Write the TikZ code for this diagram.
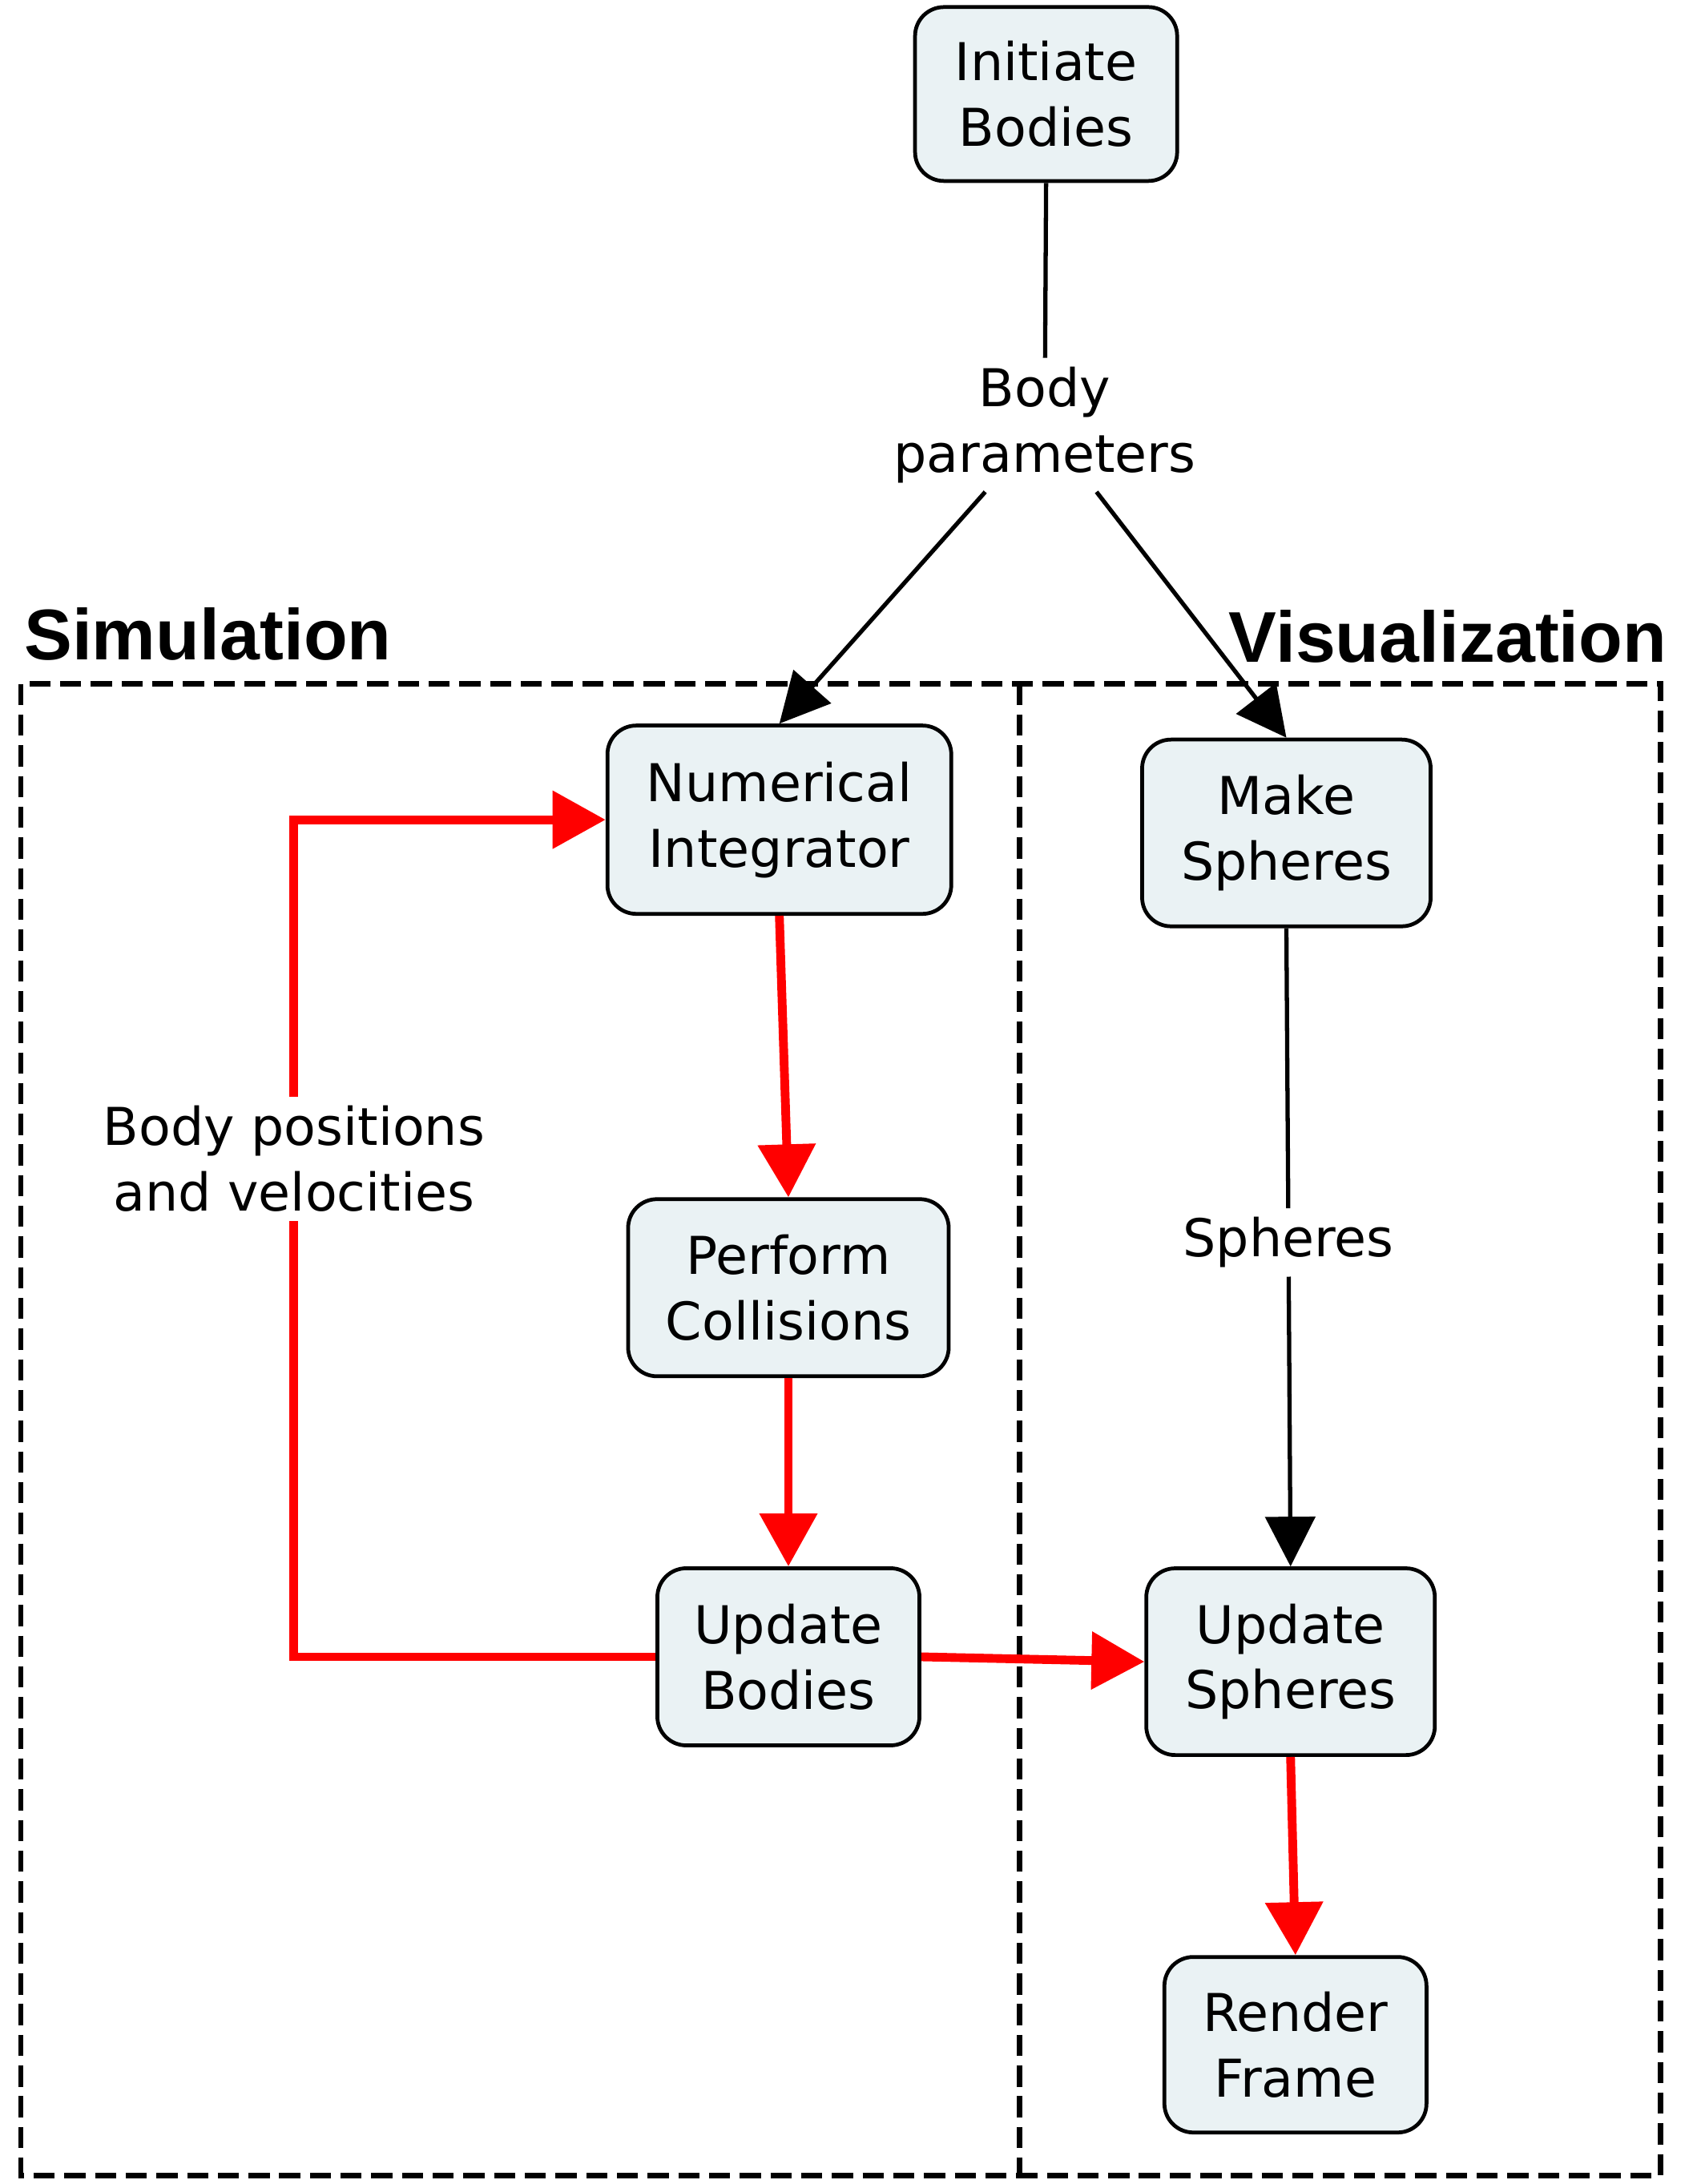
\documentclass[tikz,border=0pt]{standalone}
\usepackage{fontspec}
\setmainfont{DejaVu Sans}
\newfontfamily\titlefont{Liberation Sans}
\usepackage{tikz}
\usetikzlibrary{arrows.meta,positioning,calc}
\usepackage{xcolor}
\definecolor{boxfill}{RGB}{234,242,244}
\tikzset{
  procbox/.style={draw,rounded corners=0.36cm,line width=1.35pt,fill=boxfill,align=center,
    font=\fontsize{18.5}{23.3}\selectfont,inner sep=2pt},
  flowlabel/.style={align=center,font=\fontsize{18.5}{23.3}\selectfont,inner sep=3pt},
  grouptitle/.style={font=\titlefont\bfseries\fontsize{25.5}{30}\selectfont,inner sep=0pt},
  groupframe/.style={draw,dash pattern=on 7.5pt off 3.4pt,line width=1.9pt},
  blackflow/.style={draw,line width=1.5pt,-{Triangle[length=0.62cm,width=0.62cm]}},
  redflow/.style={draw=red,line width=3.1pt,-{Triangle[length=0.66cm,width=0.70cm]}},
  plainlink/.style={draw,line width=1.5pt},
}

\begin{document}
\begin{tikzpicture}[x=0.017387cm,y=-0.017387cm]
\useasboundingbox (0,0) rectangle (1221,1568);

% group frames
\draw[groupframe] (15,491) rectangle (1192,1562);
\draw[groupframe] (732,491) -- (732,1562);
\node[grouptitle,anchor=west] (simtitle) at (17,455) {Simulation};
\node[grouptitle,anchor=east] (vistitle) at (1197,457) {Visualization};

% boxes
\node[procbox,minimum width=3.27cm,minimum height=2.17cm] (init) at (751,67.5) {Initiate\\Bodies};
\node[procbox,minimum width=4.29cm,minimum height=2.35cm] (nint) at (559.5,588.5) {Numerical\\Integrator};
\node[procbox,minimum width=4.00cm,minimum height=2.21cm] (pcol) at (566,924.5) {Perform\\Collisions};
\node[procbox,minimum width=3.27cm,minimum height=2.21cm] (ubod) at (566,1189.5) {Update\\Bodies};
\node[procbox,minimum width=3.60cm,minimum height=2.33cm] (msph) at (923.5,598) {Make\\Spheres};
\node[procbox,minimum width=3.60cm,minimum height=2.33cm] (usph) at (926.5,1193) {Update\\Spheres};
\node[procbox,minimum width=3.27cm,minimum height=2.19cm] (rfrm) at (930,1468) {Render\\Frame};

% labels on the links
\node[flowlabel] (bpar) at (750,305) {Body\\parameters};
\node[flowlabel] (sphl) at (925,892) {Spheres};
\node[flowlabel] (bpv) at (211,832) {Body positions\\and velocities};

% black links
\path[plainlink] (init.south) -- (bpar);
\path[blackflow] (bpar) -- (nint.north);
\path[blackflow] (bpar) -- (msph.north);
\path[plainlink] (msph.south) -- (sphl);
\path[blackflow] (sphl) -- (usph.north);

% red links
\path[redflow] (nint.south) -- (pcol.north);
\path[redflow] (pcol.south) -- (ubod.north);
\path[redflow] (ubod.east) -- (usph.west);
\path[redflow] (usph.south) -- (rfrm.north);
\path[redflow,-] (ubod.west) -| (bpv.south);
\path[redflow] (bpv.north) |- (nint.west);

\end{tikzpicture}
\end{document}
